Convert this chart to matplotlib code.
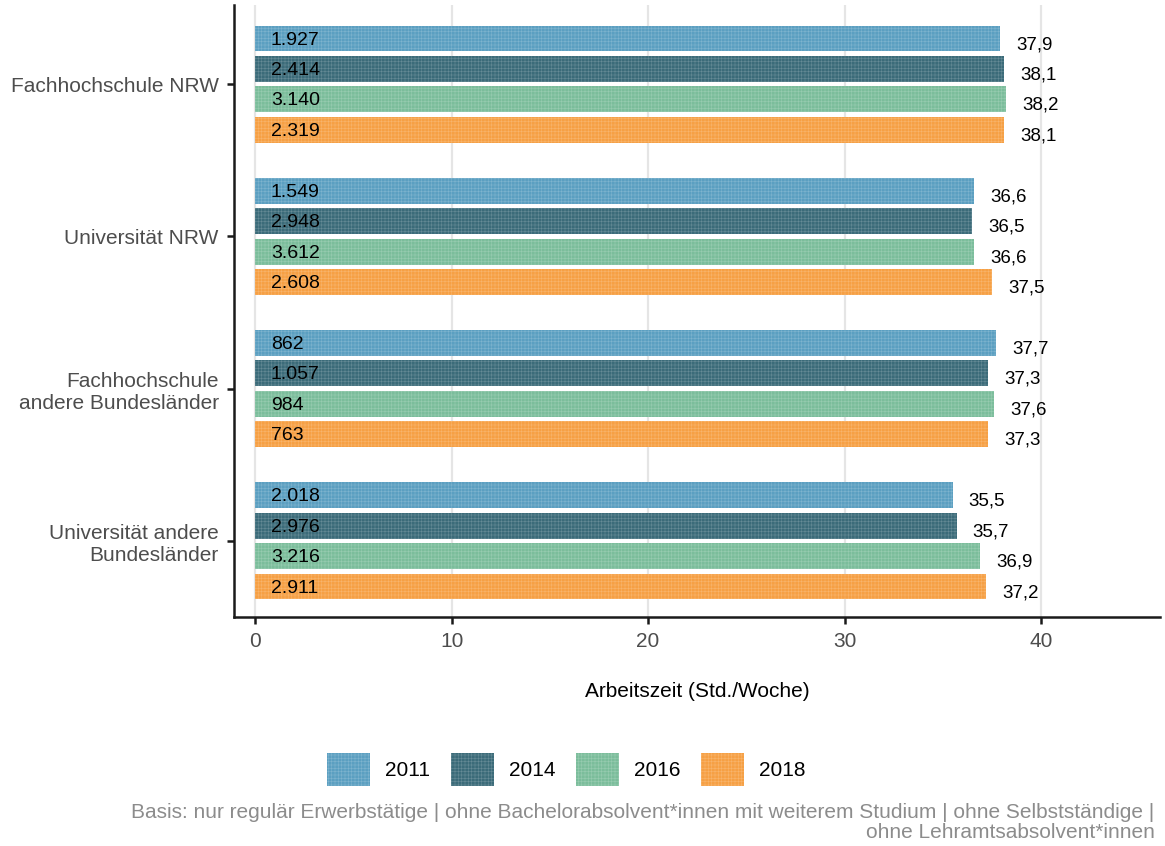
import numpy as np
import matplotlib.pyplot as plt
from matplotlib.patches import Patch

# Daten
gruppen = ['Fachhochschule NRW', 'Universität NRW',
           'Fachhochschule\nandere Bundesländer', 'Universität andere\nBundesländer']
jahre = ['2011', '2014', '2016', '2018']
farben = ['#5b9fc1', '#3b6b79', '#7bbd9b', '#f6a044']

arbeitszeit = {
    '2011': [37.9, 36.6, 37.7, 35.5],
    '2014': [38.1, 36.5, 37.3, 35.7],
    '2016': [38.2, 36.6, 37.6, 36.9],
    '2018': [38.1, 37.5, 37.3, 37.2],
}
fallzahl = {
    '2011': ['1.927', '1.549', '862', '2.018'],
    '2014': ['2.414', '2.948', '1.057', '2.976'],
    '2016': ['3.140', '3.612', '984', '3.216'],
    '2018': ['2.319', '2.608', '763', '2.911'],
}

plt.rcParams['font.family'] = ['Liberation Sans', 'DejaVu Sans']
plt.rcParams['hatch.linewidth'] = 0.4

fig = plt.figure(figsize=(11.65, 8.46), dpi=100)
ax = fig.add_axes([0.2009, 0.2707, 0.7948, 0.7234])

y0 = np.arange(len(gruppen))
schritt = 0.2
for k, jahr in enumerate(jahre):
    y = y0 - 0.3 + k * schritt
    ax.barh(y, arbeitszeit[jahr], height=0.17, color=farben[k],
            edgecolor=(1, 1, 1, 0.22), linewidth=0, hatch='+++++', zorder=2)
    for yy, v, n in zip(y, arbeitszeit[jahr], fallzahl[jahr]):
        ax.text(0.8, yy + 0.01, n, ha='left', va='center', fontsize=14,
                color='black', zorder=3)
        ax.text(v + 1.75, yy + 0.04, f'{v:.1f}'.replace('.', ','),
                ha='center', va='center', fontsize=13.5, color='black')

ax.set_xlim(-1.07, 46.05)
ax.set_ylim(3.5, -0.52)
ax.set_xticks([0, 10, 20, 30, 40])
ax.set_yticks(y0)
ax.set_yticklabels(gruppen)
ax.grid(axis='x', color='#e5e5e5', linewidth=1.6, zorder=0)
ax.set_axisbelow(True)
for s in ['top', 'right']:
    ax.spines[s].set_visible(False)
for s in ['left', 'bottom']:
    ax.spines[s].set_linewidth(1.8)
    ax.spines[s].set_color('#1a1a1a')
ax.tick_params(axis='both', labelsize=15, labelcolor='#4d4d4d',
               width=1.8, length=5, color='#1a1a1a')
ax.tick_params(axis='y', pad=6)
ax.tick_params(axis='x', pad=6)
ax.set_xlabel('Arbeitszeit (Std./Woche)', fontsize=15, labelpad=22)

handles = [Patch(facecolor=farben[k], edgecolor=(1, 1, 1, 0.22), linewidth=0,
                 hatch='+++++', label=j) for k, j in enumerate(jahre)]
fig.legend(handles=handles, loc='center', bbox_to_anchor=(0.486, 0.09),
           ncol=4, frameon=False, fontsize=15, handlelength=2.07,
           handleheight=2.07, handletextpad=0.7, columnspacing=1.0)

fig.text(0.991, 0.028, 'Basis: nur regulär Erwerbstätige | ohne Bachelorabsolvent*innen '
         'mit weiterem Studium | ohne Selbstständige |\nohne Lehramtsabsolvent*innen',
         ha='right', va='center', fontsize=15, color='#8c8c8c', linespacing=1.1)

fig.savefig('out.png', dpi=100)
